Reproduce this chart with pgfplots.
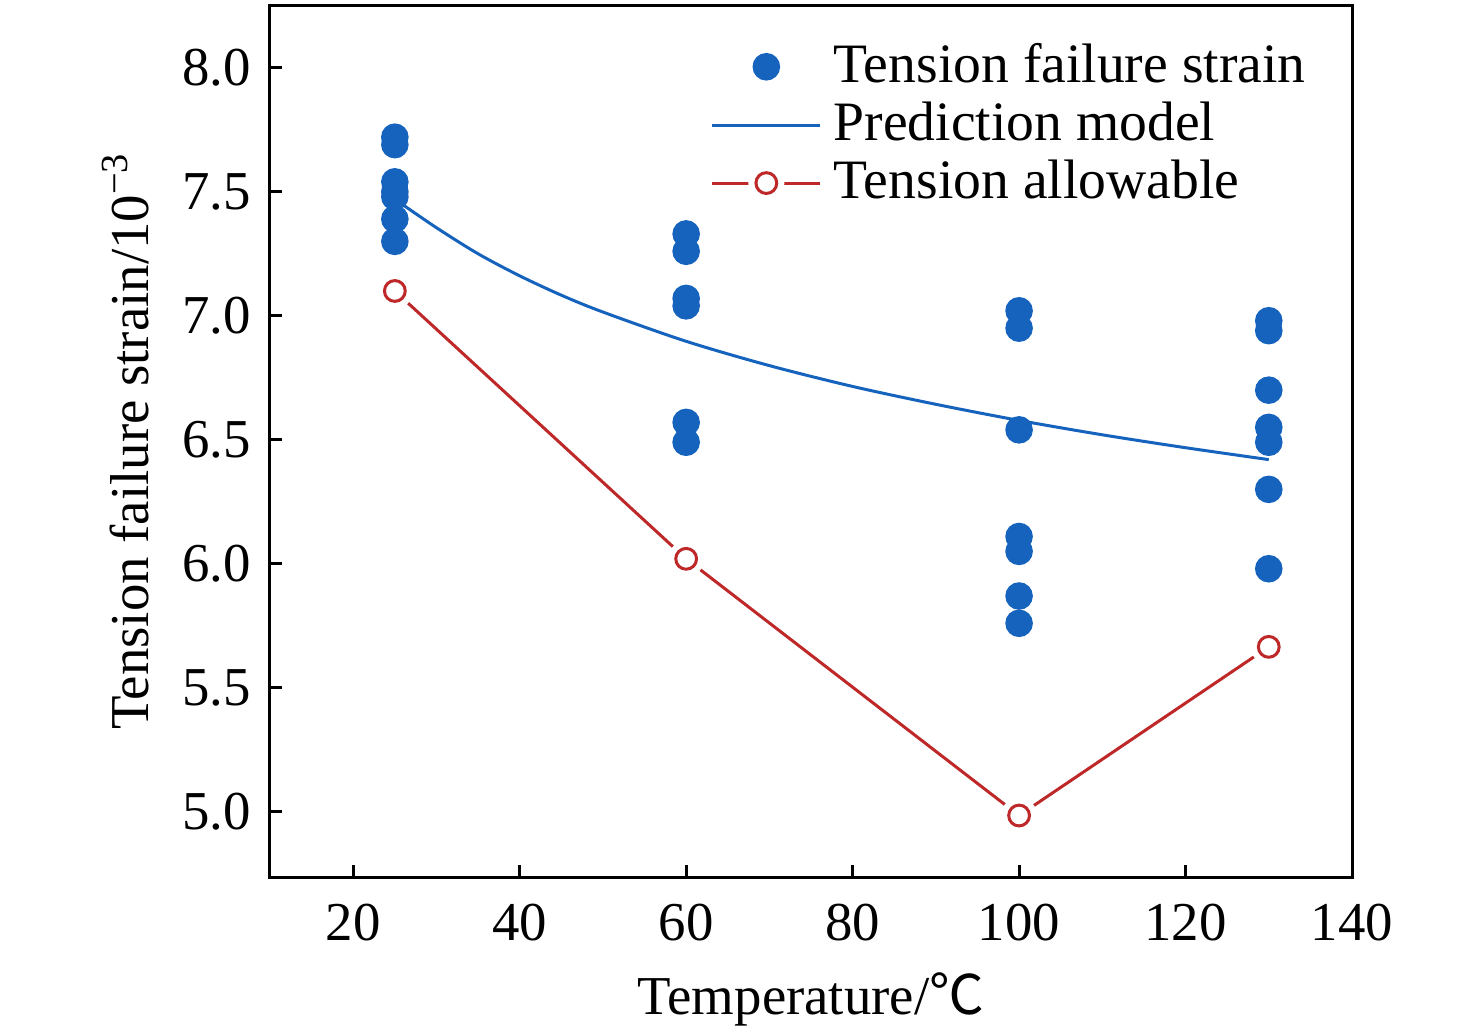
\documentclass[border=0pt]{standalone}
\usepackage{fontspec}
\setmainfont{Liberation Serif}
\newfontfamily\cjk{Noto Sans CJK SC}
\usepackage{pgfplots}
\usepackage{pgfplotstable}
\pgfplotsset{compat=1.18}
\definecolor{mblue}{RGB}{22,99,190}
\definecolor{mred}{RGB}{190,40,40}

\pgfplotstableread{
T eps
25 7.72
25 7.69
25 7.54
25 7.50
25 7.48
25 7.39
25 7.30
60 7.33
60 7.26
60 7.07
60 7.04
60 6.57
60 6.49
100 7.02
100 6.95
100 6.54
100 6.11
100 6.05
100 5.87
100 5.76
130 6.98
130 6.94
130 6.70
130 6.55
130 6.49
130 6.30
130 5.98
}\failtab

\pgfplotstableread{
T eps
25 7.47
30 7.355
35 7.250
40 7.161
45 7.083
50 7.015
60 6.897
70 6.799
80 6.715
90 6.643
100 6.578
110 6.520
120 6.468
130 6.420
}\modeltab

\pgfplotstableread{
T eps
25 7.10
60 6.02
100 4.985
130 5.665
}\allowtab

\begin{document}
\fontsize{13.7}{16}\selectfont
\begin{tikzpicture}
\begin{axis}[
  name=ax,
  scale only axis,
  width=270.5pt, height=218pt,
  xmin=10, xmax=140, ymin=4.737, ymax=8.253,
  xtick={20,40,...,140},
  ytick={5.0,5.5,...,8.0},
  xtick pos=bottom, ytick pos=left,
  tick align=inside,
  major tick length=3pt,
  axis line style={line width=0.75pt},
  every tick/.style={line width=0.75pt, black},
  /pgf/number format/assume math mode=true,
  ticklabel style={font=\fontsize{13.7}{16}\selectfont},
  yticklabel style={/pgf/number format/.cd, fixed, fixed zerofill, precision=1},
  xticklabel style={yshift=-2pt},
  xlabel={Temperature/{\cjk ℃}},
  ylabel={Tension failure strain/10\textsuperscript{−3}},
  label style={font=\fontsize{13.7}{16}\selectfont},
  xlabel style={yshift=1.5pt},
  ylabel style={yshift=-1pt},
  legend cell align=left,
  legend style={draw=none, fill=none, at={(rel axis cs:0.403,0.971)}, anchor=north west,
    font=\fontsize{13.9}{16}\selectfont, row sep=-1.2pt, inner sep=1pt, column sep=1pt},
  legend image code/.code={\draw[mark repeat=2,mark phase=2,#1] plot coordinates {(0pt,0pt)(13.5pt,0pt)(27pt,0pt)};},
]
\addplot[forget plot, mred, line width=0.75pt] table[x=T,y=eps] {\allowtab};
\addplot[forget plot, only marks, mark=*, white, mark size=4.3pt] table[x=T,y=eps] {\allowtab};
\addplot[forget plot, only marks, mark=o, mred, mark size=2.6pt, line width=0.75pt, mark options={fill=white}] table[x=T,y=eps] {\allowtab};
\addplot[only marks, mark=*, mblue, mark size=3.25pt] table[x=T,y=eps] {\failtab};
\addplot[mblue, line width=0.75pt, no marks, smooth] table[x=T,y=eps] {\modeltab};
\addlegendimage{legend image code/.code={
  \draw[mred, line width=0.75pt] (0pt,0pt)--(27pt,0pt);
  \fill[white] (13.5pt,0pt) circle (4.3pt);
  \draw[mred, line width=0.75pt, fill=white] (13.5pt,0pt) circle (2.6pt);}}
\legend{Tension failure strain, Prediction model, Tension allowable}
\end{axis}
\pgfresetboundingbox
\path ([xshift=-67.5pt,yshift=-38.5pt]ax.south west) rectangle ([xshift=31pt,yshift=1.25pt]ax.north east);
\end{tikzpicture}
\end{document}
